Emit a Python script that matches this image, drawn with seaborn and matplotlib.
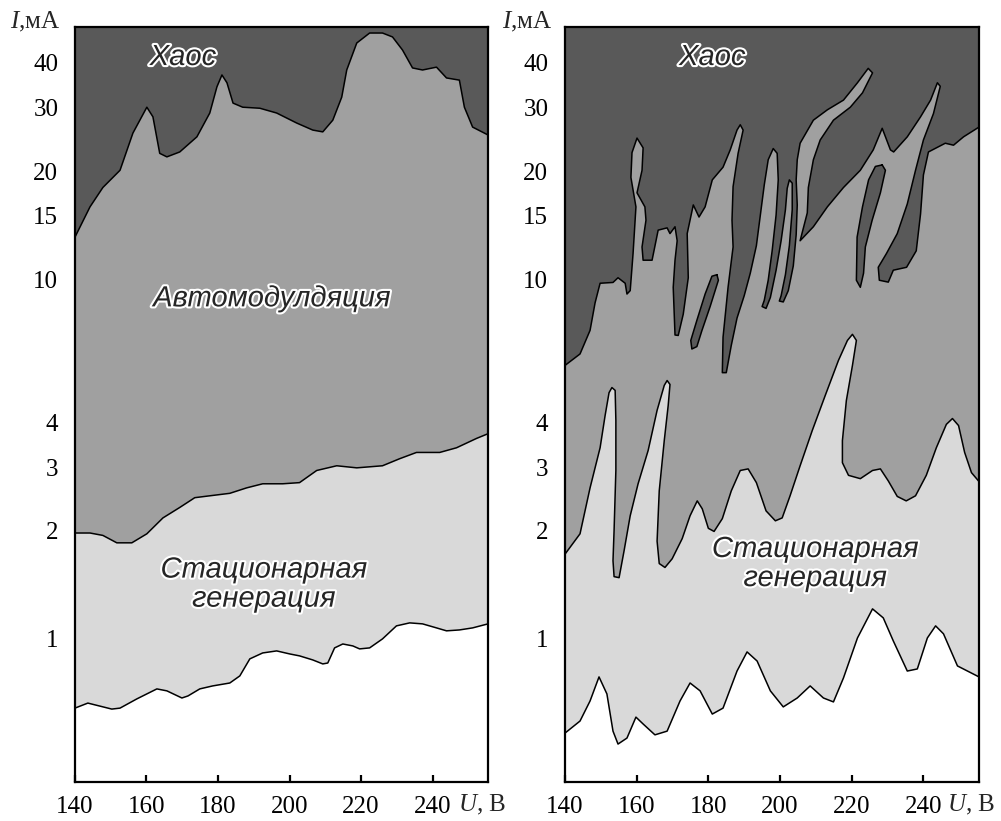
import matplotlib
matplotlib.use("Agg")
import matplotlib.pyplot as plt
import matplotlib.patheffects as pe
from matplotlib.ticker import NullLocator
import seaborn as sns

# ---- left panel boundaries (U in V, I in mA) ----
left_chaos_u = [140, 144.2, 147.8, 152.6, 156.2, 160.1, 161.8, 163.7, 165.7, 169.3, 174.1, 177.7,
                179.7, 181.1, 182.5, 184.2, 186.9, 191.7, 196.4, 202.0, 206.5, 209.3, 212.1, 214.6,
                216.0, 218.8, 222.4, 226.0, 228.8, 231.6, 234.4, 237.2, 241.1, 243.9, 247.5, 248.9,
                251.2, 255.5]
left_chaos_i = [13.1, 15.9, 18.0, 20.1, 25.5, 30.1, 28.3, 22.4, 21.9, 22.6, 24.9, 29.0,
                34.3, 37.0, 35.2, 30.9, 30.1, 29.9, 29.0, 27.2, 26.0, 25.7, 27.7, 32.1,
                38.2, 45.4, 48.4, 48.4, 47.2, 43.4, 38.7, 38.2, 38.9, 36.3, 35.8, 30.1,
                26.5, 25.2]

left_mod_u = [140, 144.2, 147.8, 151.7, 155.9, 160.1, 164.6, 169.3, 173.5, 177.7, 183.3, 188.0,
              192.5, 198.1, 202.8, 207.6, 213.2, 218.8, 226.0, 230.8, 235.5, 242.0, 246.7, 252.3,
              255.5]
left_mod_i = [1.97, 1.97, 1.94, 1.85, 1.85, 1.96, 2.17, 2.32, 2.47, 2.50, 2.54, 2.63,
              2.70, 2.70, 2.72, 2.94, 3.03, 2.99, 3.03, 3.17, 3.30, 3.30, 3.40, 3.61,
              3.72]

left_gen_u = [140, 143.6, 150.3, 152.6, 157.3, 162.9, 165.7, 169.9, 171.6, 174.9, 178.5, 183.3,
              186.1, 188.9, 192.5, 196.4, 200.1, 202.8, 206.5, 209.3, 210.7, 212.6, 214.9, 217.7,
              219.6, 222.4, 226.0, 229.9, 233.6, 237.2, 241.1, 243.9, 247.5, 251.2, 255.5]
left_gen_i = [0.642, 0.663, 0.638, 0.642, 0.681, 0.726, 0.717, 0.685, 0.694, 0.726, 0.740, 0.754,
              0.789, 0.880, 0.914, 0.926, 0.908, 0.897, 0.874, 0.852, 0.857, 0.944, 0.968, 0.956,
              0.938, 0.944, 1.0, 1.087, 1.108, 1.101, 1.073, 1.053, 1.059, 1.073, 1.101]

# ---- right panel boundaries ----
right_chaos_u = [140, 144.2, 147.0, 148.4, 149.8, 153.4, 154.8, 156.8, 157.3, 158.2, 159.0, 159.8,
                 158.4, 158.7, 160.1, 161.8, 161.5, 160.1, 162.3, 162.6, 161.5, 161.8, 164.3, 166.0,
                 168.5, 169.3, 170.7, 171.3, 170.7, 170.2, 170.7, 171.6, 173.0, 174.4, 174.1, 175.8,
                 177.4, 179.1, 181.1, 184.1, 186.1, 188.0, 188.9, 189.7, 188.3, 186.9, 186.6, 186.9,
                 185.5, 184.1, 183.9, 185.0, 186.4, 188.0, 190.0, 191.7, 193.4, 194.5, 195.6, 196.7,
                 198.1, 199.2, 199.5, 198.9, 197.8, 196.7, 195.6, 195.0, 196.1, 197.3, 198.9, 200.3,
                 201.5, 202.0, 202.6, 203.4, 203.4, 202.6, 201.5, 200.3, 199.8, 200.9, 202.3, 203.7,
                 204.5, 204.8, 204.5, 204.8, 205.6, 209.3, 213.2, 217.7, 221.6, 224.6, 225.8, 223.0,
                 219.6, 214.9, 211.2, 209.3, 207.9, 207.6, 205.6, 209.3, 213.2, 217.7, 222.4, 226.0,
                 228.5, 230.8, 231.7, 235.5, 239.2, 242.0, 243.9, 244.7, 242.8, 240.0, 237.8, 235.5,
                 232.7, 229.7, 227.4, 227.7, 230.2, 231.6, 235.3, 238.0, 239.2, 240.0, 241.4, 246.1,
                 248.4, 251.2, 255.5]
right_chaos_i = [5.76, 6.2, 7.21, 8.6, 9.75, 9.8, 10.1, 9.75, 9.1, 9.3, 11.8, 15.9,
                 19.2, 22.5, 24.7, 23.2, 20.1, 17.4, 15.9, 14.6, 12.3, 11.3, 11.3, 13.7,
                 13.9, 13.4, 14.0, 12.8, 11.3, 9.5, 7.0, 6.98, 8.0, 10.1, 13.4, 16.1,
                 14.9, 15.9, 18.9, 20.5, 22.9, 26.0, 26.9, 26.0, 22.4, 18.1, 14.6, 12.3,
                 9.5, 6.9, 5.5, 5.5, 6.55, 7.8, 9.0, 10.4, 12.4, 15.1, 18.3, 21.5,
                 23.1, 22.4, 18.9, 15.1, 12.0, 9.94, 8.74, 8.4, 8.3, 8.9, 10.6, 12.8,
                 15.6, 17.9, 18.9, 18.5, 15.6, 12.4, 10.3, 9.0, 8.7, 8.65, 9.3, 10.9,
                 13.3, 16.1, 18.9, 21.5, 23.9, 27.7, 29.6, 31.5, 35.2, 38.6, 37.5, 33.0,
                 30.1, 27.7, 24.4, 21.5, 18.0, 15.3, 12.8, 14.0, 15.9, 18.0, 20.1, 22.9,
                 26.3, 22.9, 22.6, 24.9, 28.3, 31.5, 35.2, 34.4, 28.9, 24.4, 20.1, 16.2,
                 13.4, 11.8, 10.8, 9.94, 9.82, 10.6, 10.8, 12.0, 15.2, 19.5, 22.6, 23.9,
                 23.6, 24.9, 26.5]

right_mod_u = [140, 144.2, 147.0, 149.8, 151.2, 152.3, 153.1, 154.0, 154.2, 154.2, 153.7, 153.4,
               153.7, 155.1, 156.5, 158.2, 160.4, 163.2, 165.7, 167.7, 168.5, 169.3, 168.8, 167.7,
               166.3, 165.7, 166.3, 167.9, 169.9, 172.7, 174.9, 176.9, 178.3, 180.0, 181.6, 183.9,
               186.4, 188.9, 191.1, 193.4, 196.1, 198.7, 200.6, 202.8, 205.6, 209.0, 212.6, 216.3,
               218.8, 220.2, 221.3, 220.2, 218.5, 217.4, 217.4, 219.1, 222.4, 225.8, 228.0, 230.2,
               232.7, 235.2, 237.8, 240.8, 243.6, 246.4, 248.1, 249.8, 251.5, 253.4, 255.5]
right_mod_i = [1.72, 1.96, 2.63, 3.40, 4.18, 4.84, 5.0, 4.91, 4.05, 2.94, 2.00, 1.65,
               1.49, 1.48, 1.76, 2.20, 2.70, 3.34, 4.32, 5.07, 5.23, 5.10, 4.46, 3.56,
               2.58, 1.87, 1.62, 1.58, 1.67, 1.90, 2.20, 2.42, 2.30, 2.03, 1.99, 2.16,
               2.58, 2.94, 2.97, 2.72, 2.27, 2.13, 2.17, 2.50, 3.03, 3.80, 4.75, 5.95,
               6.76, 7.03, 6.76, 5.76, 4.60, 3.56, 3.09, 2.85, 2.79, 2.94, 2.97, 2.75,
               2.49, 2.42, 2.50, 2.85, 3.40, 3.95, 4.10, 3.92, 3.30, 2.90, 2.74]

right_gen_u = [140, 144.2, 147.0, 149.5, 151.7, 153.4, 154.8, 157.3, 159.8, 161.8, 165.1, 168.5,
               172.1, 174.9, 177.7, 181.1, 184.1, 188.0, 190.8, 193.6, 197.3, 200.9, 204.8, 208.4,
               212.1, 214.9, 217.7, 221.6, 225.8, 228.8, 231.6, 235.5, 238.3, 241.1, 243.4, 245.6,
               249.5, 255.5]
right_gen_i = [0.547, 0.591, 0.672, 0.784, 0.703, 0.554, 0.510, 0.530, 0.606, 0.580, 0.541, 0.554,
               0.672, 0.754, 0.717, 0.618, 0.642, 0.814, 0.920, 0.868, 0.717, 0.647, 0.685, 0.740,
               0.685, 0.668, 0.779, 1.006, 1.212, 1.144, 0.987, 0.814, 0.825, 1.006, 1.087, 1.033,
               0.841, 0.784]

# dark islands inside the automodulation zone (right panel)
island1_u = [182.4, 182.8, 180.5, 178.2, 176.8, 175.4, 175.1, 176.8, 179.1, 181.0]
island1_i = [10.3, 9.94, 8.4, 7.2, 6.5, 6.4, 6.76, 7.69, 9.1, 10.2]
island2_u = [228.5, 229.4, 228.0, 225.7, 223.8, 223.3, 222.4, 221.3, 221.5, 223.0, 224.7, 226.6]
island2_i = [20.8, 20.1, 17.4, 14.6, 12.3, 10.4, 9.5, 9.94, 13.1, 15.9, 18.9, 20.6]

y_ticks = [1, 2, 3, 4, 10, 15, 20, 30, 40]
x_ticks = [140, 160, 180, 200, 220, 240]

DARK = "#595959"
MID = "#a0a0a0"
LIGHT = "#d9d9d9"

sns.set_style("ticks")
plt.rcParams["font.family"] = ["Liberation Serif", "DejaVu Serif"]
plt.rcParams["mathtext.fontset"] = "custom"
plt.rcParams["mathtext.it"] = "Liberation Serif:italic"
plt.rcParams["mathtext.rm"] = "Liberation Serif"


def region_above(ax, u, i, color):
    # fill everything above a traced boundary
    ax.fill(list(u) + [u[-1], u[0]], list(i) + [200, 200], color=color, lw=0, zorder=1)


def boundary(ax, u, i):
    sns.lineplot(x=u, y=i, sort=False, estimator=None, color="black", lw=1.1, ax=ax, zorder=2,
                 solid_joinstyle="round")


def island(ax, u, i, color):
    ax.fill(u, i, color=color, lw=0, zorder=1.5)
    boundary(ax, list(u) + [u[0]], list(i) + [i[0]])


def label(ax, x, y, s, size):
    ax.text(x, y, s, fontsize=size, style="italic", family=["Liberation Sans", "DejaVu Sans"],
            ha="center", va="center", linespacing=1.05, zorder=4,
            path_effects=[pe.withStroke(linewidth=3, foreground="white")])


def setup(ax):
    ax.set_yscale("log")
    ax.set_xlim(140, 255.5)
    ax.set_ylim(0.4, 50.3)
    ax.set_yticks(y_ticks)
    ax.set_yticklabels([str(t) for t in y_ticks])
    ax.yaxis.set_minor_locator(NullLocator())
    ax.set_xticks(x_ticks)
    ax.set_xticklabels([str(t) for t in x_ticks])
    ax.tick_params(direction="in", length=5, width=1.6, labelsize=18, colors="black")
    ax.tick_params(axis="y", pad=12)
    ax.tick_params(axis="x", pad=10)
    ax.set_xlabel("")
    ax.set_ylabel("")
    for sp in ax.spines.values():
        sp.set_visible(True)
        sp.set_linewidth(1.6)
        sp.set_color("black")
        sp.set_zorder(5)
    ax.set_facecolor("white")


fig = plt.figure(figsize=(10.01, 8.21), dpi=100)
ax1 = fig.add_axes([0.0749, 0.0475, 0.4126, 0.9196])
ax2 = fig.add_axes([0.5644, 0.0475, 0.4136, 0.9196])

# left panel
region_above(ax1, left_gen_u, left_gen_i, LIGHT)
region_above(ax1, left_mod_u, left_mod_i, MID)
region_above(ax1, left_chaos_u, left_chaos_i, DARK)
for u, i in [(left_gen_u, left_gen_i), (left_mod_u, left_mod_i), (left_chaos_u, left_chaos_i)]:
    boundary(ax1, u, i)
setup(ax1)
label(ax1, 170.2, 41.5, "Хаос", 21)
label(ax1, 195.0, 8.85, "Автомодулдяция", 21)
label(ax1, 192.8, 1.42, "Стационарная\nгенерация", 21)

# right panel
region_above(ax2, right_gen_u, right_gen_i, LIGHT)
region_above(ax2, right_mod_u, right_mod_i, MID)
region_above(ax2, right_chaos_u, right_chaos_i, DARK)
for u, i in [(right_gen_u, right_gen_i), (right_mod_u, right_mod_i), (right_chaos_u, right_chaos_i)]:
    boundary(ax2, u, i)
island(ax2, island1_u, island1_i, DARK)
island(ax2, island2_u, island2_i, DARK)
setup(ax2)
label(ax2, 181.1, 41.5, "Хаос", 21)
label(ax2, 209.8, 1.62, "Стационарная\nгенерация", 21)

# axis captions
for ax, xl, xu in [(ax1, -0.157, 0.927), (ax2, -0.152, 0.923)]:
    ax.text(xl, 1.007, r"$I$,мА", transform=ax.transAxes, fontsize=18, ha="left", va="center")
    ax.text(xu, -0.0305, r"$U$, В", transform=ax.transAxes, fontsize=18, ha="left", va="center",
            clip_on=False)

fig.savefig("out.png", dpi=100)
plt.close(fig)
